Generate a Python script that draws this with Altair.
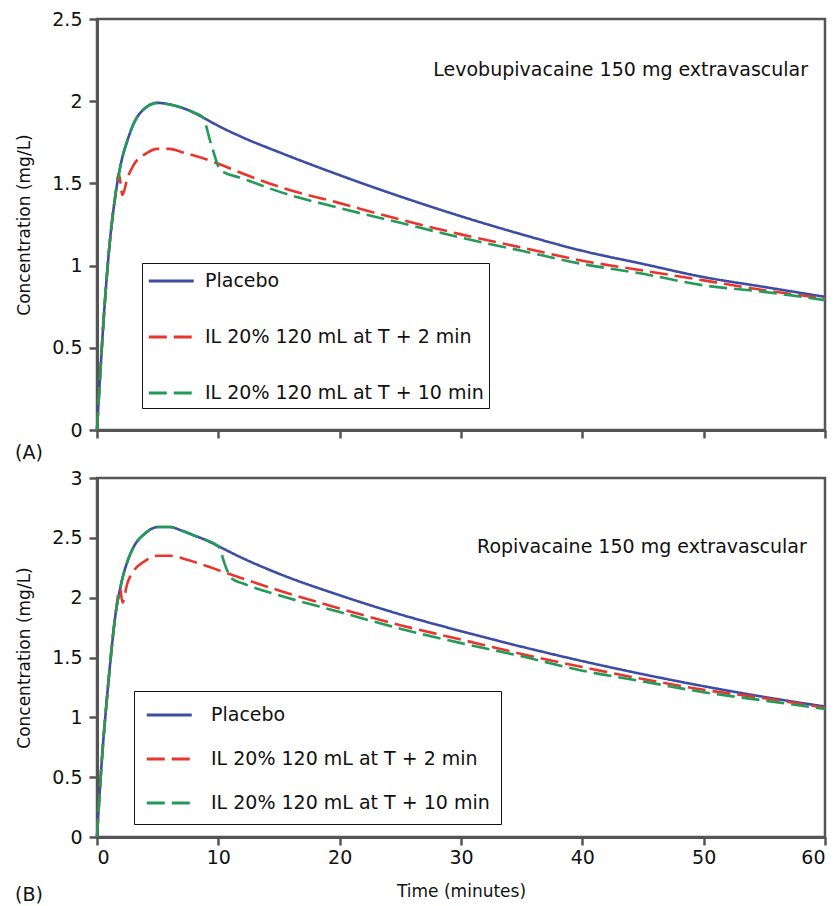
import altair as alt
import pandas as pd

FONT = "DejaVu Sans"

series_names = ["Placebo", "IL 20% 120 mL at T + 2 min", "IL 20% 120 mL at T + 10 min"]
series_colors = ["#3b4ea3", "#e8362f", "#229a58"]
series_dashes = [[1, 0], [18, 7], [18, 7]]

x_ticks = [0, 10, 20, 30, 40, 50, 60]

# ---- Panel A: Levobupivacaine ----
levo_placebo_t = [0, 0.25, 0.5, 0.75, 1, 1.5, 2, 2.5, 3, 4, 5, 6, 7, 8, 9, 10, 12, 15, 20, 25, 30, 35, 40, 45, 50, 55, 60]
levo_placebo_c = [0, 0.32, 0.62, 0.88, 1.10, 1.42, 1.63, 1.76, 1.86, 1.96, 1.99, 1.98, 1.96, 1.93, 1.89, 1.85, 1.78, 1.69, 1.55, 1.42, 1.30, 1.19, 1.09, 1.01, 0.93, 0.87, 0.81]

levo_t2_t = [0, 0.25, 0.5, 0.75, 1, 1.5, 1.8, 2.1, 2.5, 3, 4, 5, 6, 7, 8, 10, 12, 15, 20, 25, 30, 35, 40, 45, 50, 55, 60]
levo_t2_c = [0, 0.32, 0.62, 0.88, 1.10, 1.42, 1.56, 1.43, 1.53, 1.61, 1.68, 1.71, 1.71, 1.69, 1.67, 1.62, 1.56, 1.48, 1.38, 1.28, 1.19, 1.11, 1.03, 0.97, 0.91, 0.85, 0.80]

levo_t10_t = [0, 0.25, 0.5, 0.75, 1, 1.5, 2, 2.5, 3, 4, 5, 6, 7, 8, 8.7, 9.4, 10.2, 12, 15, 20, 25, 30, 35, 40, 45, 50, 55, 60]
levo_t10_c = [0, 0.32, 0.62, 0.88, 1.10, 1.42, 1.63, 1.76, 1.86, 1.96, 1.99, 1.98, 1.96, 1.93, 1.905, 1.74, 1.58, 1.53, 1.45, 1.35, 1.26, 1.17, 1.09, 1.01, 0.95, 0.88, 0.84, 0.79]

levo_label = ["Levobupivacaine 150 mg extravascular"]
levo_label_t = [58.6]
levo_label_c = [2.19]
levo_y_ticks = [0, 0.5, 1, 1.5, 2, 2.5]

# ---- Panel B: Ropivacaine ----
ropi_placebo_t = [0, 0.25, 0.5, 0.75, 1, 1.5, 2, 2.5, 3, 4, 5, 6, 7, 8, 9, 10, 12, 15, 20, 25, 30, 35, 40, 45, 50, 55, 60]
ropi_placebo_c = [0, 0.42, 0.78, 1.08, 1.36, 1.84, 2.12, 2.30, 2.42, 2.54, 2.59, 2.59, 2.56, 2.52, 2.48, 2.43, 2.33, 2.20, 2.02, 1.86, 1.72, 1.59, 1.47, 1.36, 1.26, 1.17, 1.09]

ropi_t2_t = [0, 0.25, 0.5, 0.75, 1, 1.5, 1.9, 2.1, 2.5, 3, 4, 5, 6, 7, 8, 10, 12, 15, 20, 25, 30, 35, 40, 45, 50, 55, 60]
ropi_t2_c = [0, 0.42, 0.78, 1.08, 1.36, 1.84, 2.08, 1.96, 2.12, 2.22, 2.31, 2.35, 2.35, 2.33, 2.30, 2.23, 2.16, 2.06, 1.91, 1.77, 1.65, 1.53, 1.42, 1.32, 1.23, 1.16, 1.08]

ropi_t10_t = [0, 0.25, 0.5, 0.75, 1, 1.5, 2, 2.5, 3, 4, 5, 6, 7, 8, 9, 10, 10.6, 11.1, 12, 15, 20, 25, 30, 35, 40, 45, 50, 55, 60]
ropi_t10_c = [0, 0.42, 0.78, 1.08, 1.36, 1.84, 2.12, 2.30, 2.42, 2.54, 2.59, 2.59, 2.56, 2.52, 2.48, 2.43, 2.26, 2.16, 2.12, 2.02, 1.88, 1.74, 1.62, 1.51, 1.39, 1.30, 1.21, 1.14, 1.07]

ropi_label = ["Ropivacaine 150 mg extravascular"]
ropi_label_t = [58.5]
ropi_label_c = [2.42]
ropi_y_ticks = [0, 0.5, 1, 1.5, 2, 2.5, 3]


def build_df(ts, cs):
    rows = []
    for order, (name, t_list, c_list) in enumerate(zip(series_names, ts, cs)):
        for i, (t, c) in enumerate(zip(t_list, c_list)):
            rows.append({"series": name, "t": t, "c": c, "k": order, "i": i})
    return pd.DataFrame(rows)


def panel(df, ann_df, y_ticks, show_x_labels, leg_x, leg_y, leg_pad, row_pad, label_offset,
          tag, tag_dy, height):
    x_axis = alt.Axis(
        values=x_ticks,
        labels=show_x_labels,
        title="Time (minutes)" if show_x_labels else None,
        grid=False,
        tickSize=8,
        labelPadding=3,
        titlePadding=16,
    )
    y_axis = alt.Axis(
        values=y_ticks,
        format="~g",
        title="Concentration (mg/L)",
        grid=False,
        tickSize=8,
        labelPadding=7,
        minExtent=56,
        maxExtent=56,
        titlePadding=8,
    )
    legend = alt.Legend(
        title=None,
        orient="none",
        legendX=leg_x,
        legendY=leg_y,
        symbolType="M-1,0L3,0",
        symbolSize=506,
        symbolStrokeWidth=3,
        labelFont=FONT,
        labelFontSize=19,
        labelColor="#111111",
        labelOffset=label_offset,
        labelLimit=500,
        strokeColor="#111111",
        fillColor="white",
        padding=leg_pad,
        rowPadding=row_pad,
    )
    lines = alt.Chart(df).mark_line(interpolate="monotone", strokeWidth=2.6).encode(
        x=alt.X("t:Q", scale=alt.Scale(domain=[0, 60], nice=False, zero=False), axis=x_axis),
        y=alt.Y("c:Q", scale=alt.Scale(domain=[y_ticks[0], y_ticks[-1]], nice=False), axis=y_axis),
        color=alt.Color("series:N", scale=alt.Scale(domain=series_names, range=series_colors), legend=legend),
        strokeDash=alt.StrokeDash("series:N", scale=alt.Scale(domain=series_names, range=series_dashes), legend=legend),
        order=alt.Order("i:Q"),
    )
    text = alt.Chart(ann_df).mark_text(
        align="right", baseline="middle", font=FONT, fontSize=19, color="#111111"
    ).encode(x="t:Q", y="c:Q", text="label:N")
    return alt.layer(lines, text).properties(
        width=728,
        height=height,
        title=alt.TitleParams(
            tag,
            orient="bottom",
            anchor="start",
            frame="bounds",
            font=FONT,
            fontSize=19,
            fontWeight="normal",
            color="#111111",
            offset=4,
            dy=tag_dy,
        ),
    )


df_a = build_df([levo_placebo_t, levo_t2_t, levo_t10_t], [levo_placebo_c, levo_t2_c, levo_t10_c])
df_b = build_df([ropi_placebo_t, ropi_t2_t, ropi_t10_t], [ropi_placebo_c, ropi_t2_c, ropi_t10_c])
ann_a = pd.DataFrame({"t": levo_label_t, "c": levo_label_c, "label": levo_label})
ann_b = pd.DataFrame({"t": ropi_label_t, "c": ropi_label_c, "label": ropi_label})

top = panel(df_a, ann_a, levo_y_ticks, False, 45, 244, 5, 33, 32, "(A)", 0, 411)
bottom = panel(df_b, ann_b, ropi_y_ticks, True, 37, 213, 11, 21, 40, "(B)", -17, 359)

chart = alt.vconcat(top, bottom, spacing=2).resolve_scale(
    x="independent", y="independent", color="independent", strokeDash="independent"
).resolve_legend(color="independent", strokeDash="independent").properties(
    padding={"left": 5, "top": 0, "right": 0, "bottom": 0},
    background="white",
).configure_view(
    stroke="#555555", strokeWidth=2.5
).configure_axis(
    domainColor="#555555",
    domainWidth=3,
    tickColor="#555555",
    tickWidth=2.5,
    labelFont=FONT,
    labelFontSize=19,
    labelColor="#111111",
    titleFont=FONT,
    titleFontSize=17,
    titleFontWeight="normal",
    titleColor="#111111",
)

chart.save("out.html", embed_options={"renderer": "svg", "actions": False})
